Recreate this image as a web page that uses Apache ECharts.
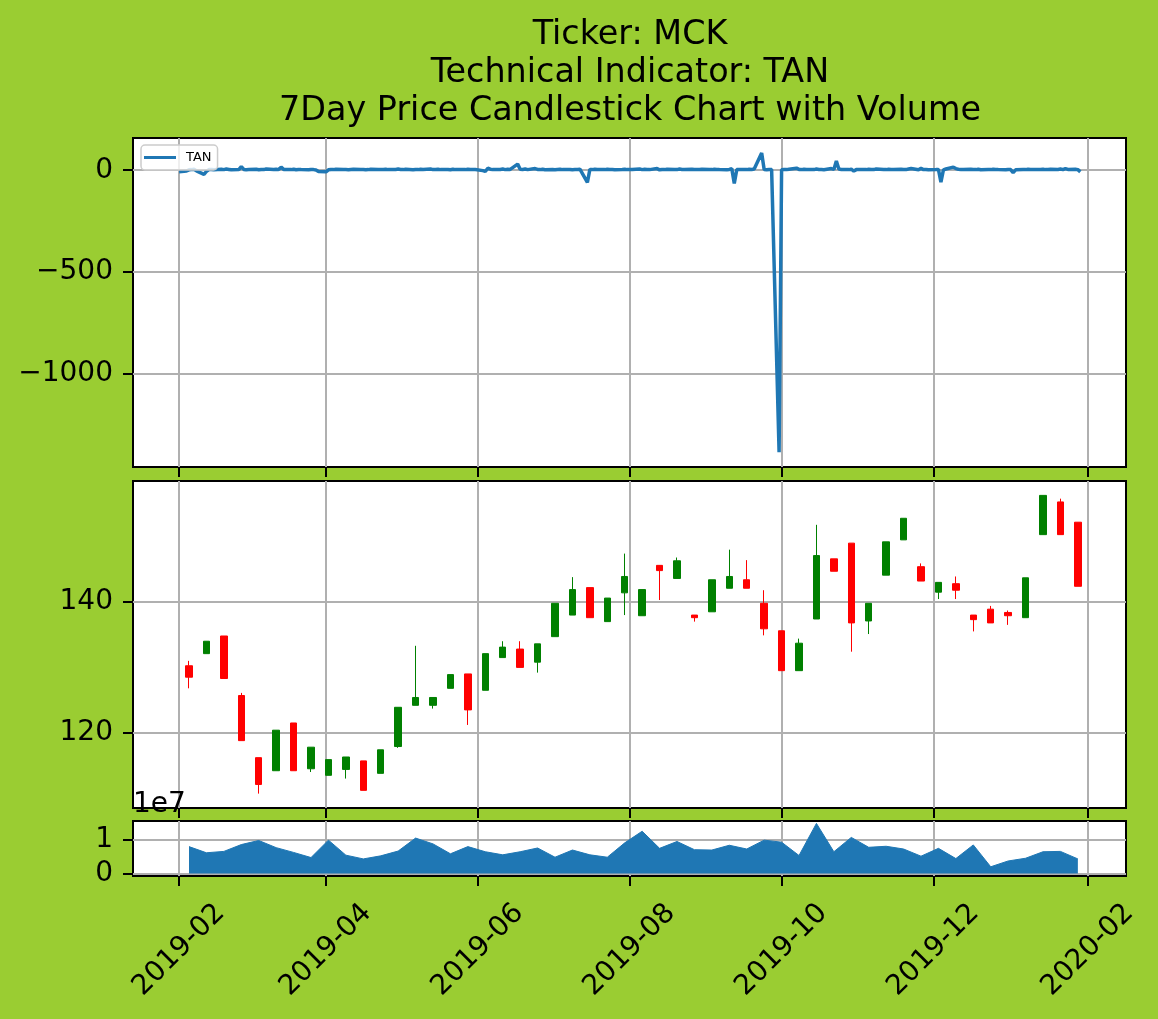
<!DOCTYPE html>
<html lang="en">
<head>
<meta charset="UTF-8">
<title>MCK - TAN - 7Day Candlestick</title>
<style>
    html, body {margin: 0; padding: 0; background: #9acd32;}
    #chart {width: 1158px; height: 1019px;}
</style>
</head>
<body>
<div id="chart"></div>

<script src="https://cdn.jsdelivr.net/npm/echarts@6/dist/echarts.min.js"></script>
<script>

// weekly candles (7Day resample), one every 7 days from candleStart
const candleStart = '2019-02-05';
const candleOpen  = [130.25, 132.1, 134.8, 125.7, 116.2, 114.2, 121.5, 114.5, 113.5, 114.4,
                     115.7, 113.8, 117.9, 124.2, 124.2, 126.8, 129.0, 126.5, 131.5, 132.8,
                     130.8, 134.7, 138.0, 142.2, 137.0, 141.4, 137.9, 145.6, 143.6, 138.0,
                     138.5, 142.1, 143.4, 139.8, 135.6, 129.5, 137.4, 146.6, 149.0, 137.1,
                     144.1, 149.5, 145.4, 141.5, 142.8, 138.0, 138.9, 138.4, 137.6, 150.3,
                     155.3, 152.2];
const candleClose = [128.5, 134.0, 128.3, 118.8, 112.1, 120.4, 114.2, 117.8, 115.9, 116.3,
                     111.2, 117.4, 123.9, 125.4, 125.4, 128.9, 123.5, 132.1, 133.1, 130.0,
                     133.6, 139.8, 141.9, 137.6, 140.6, 143.9, 141.9, 144.8, 146.3, 137.6,
                     143.4, 143.9, 142.1, 135.9, 129.5, 133.7, 147.1, 144.7, 136.8, 139.8,
                     149.2, 152.8, 143.2, 143.0, 141.8, 137.3, 136.8, 137.9, 143.7, 156.3,
                     150.3, 142.4];
const candleLow   = [126.8, 132.1, 128.3, 118.8, 110.7, 114.2, 114.2, 114.0, 113.5, 113.0,
                     111.2, 113.8, 117.7, 124.2, 123.7, 126.8, 121.2, 126.5, 131.5, 130.0,
                     129.2, 134.7, 138.0, 137.6, 137.0, 138.0, 137.9, 140.3, 143.6, 137.0,
                     138.5, 142.1, 142.1, 134.9, 129.5, 129.5, 137.4, 144.7, 132.4, 135.1,
                     144.1, 149.5, 143.2, 140.45, 140.45, 135.5, 136.8, 136.5, 137.6, 150.3,
                     150.3, 142.4];
const candleHigh  = [131.0, 134.0, 134.8, 126.1, 116.2, 120.4, 121.5, 117.8, 115.9, 116.3,
                     115.7, 117.4, 123.9, 133.3, 125.4, 128.9, 129.0, 132.1, 134.0, 134.0,
                     133.6, 139.8, 143.8, 142.2, 140.6, 147.4, 141.9, 145.6, 146.8, 138.0,
                     143.4, 148.0, 146.4, 141.8, 135.6, 134.4, 151.8, 146.6, 149.0, 139.8,
                     149.2, 152.8, 145.9, 143.0, 143.9, 138.0, 139.4, 138.7, 143.7, 156.3,
                     155.8, 152.2];
const volume      = [7.9e6, 6.1e6, 6.5e6, 8.5e6, 9.7e6, 7.6e6, 6.2e6, 4.7e6, 9.8e6, 5.4e6,
                     4.3e6, 5.2e6, 6.6e6, 10.4e6, 8.7e6, 5.8e6, 7.9e6, 6.4e6, 5.5e6, 6.4e6,
                     7.5e6, 4.8e6, 6.9e6, 5.5e6, 4.8e6, 9.0e6, 12.4e6, 7.4e6, 9.4e6, 7.0e6,
                     6.9e6, 8.3e6, 7.2e6, 9.8e6, 9.2e6, 5.3e6, 14.7e6, 6.4e6, 10.6e6, 7.7e6,
                     8.0e6, 7.2e6, 5.1e6, 7.4e6, 4.4e6, 8.4e6, 2.0e6, 3.7e6, 4.5e6, 6.4e6,
                     6.5e6, 4.3e6];

// TAN, one value per trading day (Mon-Fri) from tanStart, listed month by month
const tanStart = '2019-02-01';
const tanFeb = [-8, -4, 2, 3, 5, -3, -20, -6, 3, 4, 2, 5, 3, 6, 4, 2, 3, 18, 4, 2];
const tanMar = [3, 5, 2, 4, 3, 6, 4, 5, 3, 15, 4, 3, 5, 2, 4, 3, 2, 4, 3, 1, -6];
const tanApr = [-8, 2, 4, 3, 5, 4, 3, 2, 4, 5, 3, 4, 2, 3, 5, 4, 3, 4, 5, 3, 4, 6];
const tanMay = [4, 3, 5, 2, 4, 3, 5, 4, 6, 3, 4, 5, 3, 4, 2, 5, 3, 4, 3, 5, 4, 3, 4];
const tanJun = [-2, -6, 10, 5, 3, 4, 6, 3, 5, 4, 30, 5, 4, 6, 3, 8, 4, 3, 5, 2];
const tanJul = [3, 2, 4, 5, 3, 4, 2, 3, 4, 5, -60, 4, 3, 5, 4, 3, 5, 4, 3, 2, 4, 5, 3];
const tanAug = [4, 3, 6, 3, 5, 4, 3, 8, 2, 4, 3, 5, 4, 3, 6, 4, 3, 5, 4, 3, 4, 5];
const tanSep = [4, 3, 5, 4, 3, 2, 4, 8, -65, 3, 4, 3, 5, 4, 6, 85, 3, 2, 4, 3, -1382];
const tanOct = [2, 4, 3, 5, 10, 4, 3, 5, 4, 3, 6, 4, 3, 2, 8, 4, 45, 6, 4, 3, 5, -4, 3];
const tanNov = [4, 3, 5, 4, 3, 6, 4, 3, 5, 4, 3, 5, 4, 3, 6, 8, 2, 9, 3, 4, 2];
const tanDec = [3, 4, -58, 2, 6, 15, 8, 5, 4, 3, 5, 4, 3, 5, 2, 4, 3, 5, 4, 3, 2, 4];
const tanJan = [3, -12, 2, 4, 3, 5, 4, 3, 4, 5, 3, 4, 5, 4, 6, 3, 8, 4, 5, 3, -8];

// ticks
const xTicks = ['2019-02-01', '2019-04-01', '2019-06-01', '2019-08-01', '2019-10-01', '2019-12-01', '2020-02-01'];
const tanTicks = [0, -500, -1000];
const priceTicks = [120, 140];
const volTicks = [0, 1e7];

const xMin = new Date(2019, 0, 13, 12).getTime();
const xMax = new Date(2020, 1, 16, 8).getTime();

const FONT = 'DejaVu Sans';

function toTime(s) {
    return new Date(s + 'T00:00:00').getTime();
}

// trading days (weekdays) starting at start
function tradingDays(start, n) {
    const out = [];
    const d = new Date(start + 'T00:00:00');
    while (out.length < n) {
        const w = d.getDay();
        if (w !== 0 && w !== 6) out.push(d.getTime());
        d.setDate(d.getDate() + 1);
    }
    return out;
}

function everyWeek(start, n) {
    const out = [];
    const d = new Date(start + 'T00:00:00');
    for (let i = 0; i < n; i++) {
        out.push(d.getTime());
        d.setDate(d.getDate() + 7);
    }
    return out;
}

const tanValues = [].concat(tanFeb, tanMar, tanApr, tanMay, tanJun, tanJul, tanAug, tanSep, tanOct, tanNov, tanDec, tanJan);
const tanDates = tradingDays(tanStart, tanValues.length);
const candleDates = everyWeek(candleStart, candleOpen.length);
const xTickTimes = xTicks.map(toTime);

const tanData = tanDates.map((d, i) => [d, tanValues[i]]);
const candleData = candleDates.map((d, i) => [d, candleOpen[i], candleClose[i], candleLow[i], candleHigh[i]]);
const volData = candleDates.map((d, i) => [d, volume[i]]);

const gridLine = {show: true, lineStyle: {color: '#b0b0b0', width: 2}};
const tickStyle = {color: '#000', width: 2};

function xAxisFor(idx, withLabels) {
    return {
        type: 'value', gridIndex: idx, min: xMin, max: xMax, position: 'bottom',
        axisLine: {show: false, onZero: false},
        axisTick: {show: true, length: 10, lineStyle: tickStyle, customValues: xTickTimes},
        axisLabel: withLabels ? {
            show: true, customValues: xTickTimes, rotate: 45, align: 'center', verticalAlign: 'middle',
            margin: 74, color: '#000', fontFamily: FONT, fontSize: 28,
            formatter: v => {
                const d = new Date(v);
                return d.getFullYear() + '-' + String(d.getMonth() + 1).padStart(2, '0');
            }
        } : {show: false, customValues: xTickTimes},
        splitLine: gridLine
    };
}

function yAxisFor(idx, min, max, ticks, fmt, extra) {
    return Object.assign({
        type: 'value', gridIndex: idx, min: min, max: max, position: 'left',
        axisLine: {show: false, onZero: false},
        axisTick: {show: true, length: 10, lineStyle: tickStyle, customValues: ticks},
        axisLabel: {show: true, customValues: ticks, margin: 20, color: '#000', fontFamily: FONT, fontSize: 28, formatter: fmt},
        splitLine: gridLine
    }, extra || {});
}

const gridBase = {show: true, left: 133, width: 993, borderColor: '#000', borderWidth: 2, backgroundColor: '#fff'};

const chart = echarts.init(document.getElementById('chart'));

chart.setOption({
    animation: false,
    backgroundColor: '#9acd32',
    title: {
        text: 'Ticker: MCK\nTechnical Indicator: TAN\n7Day Price Candlestick Chart with Volume',
        left: 630, top: 16, textAlign: 'center', padding: 0,
        textStyle: {fontFamily: FONT, fontSize: 33.4, fontWeight: 'normal', color: '#000', lineHeight: 38}
    },
    legend: {
        data: ['TAN'], left: 141, top: 145,
        icon: 'rect', itemWidth: 32, itemHeight: 3, itemGap: 0,
        padding: [6, 6, 6, 3],
        backgroundColor: 'rgba(255,255,255,0.8)', borderColor: '#cccccc', borderWidth: 1.5, borderRadius: 4,
        textStyle: {fontFamily: FONT, fontSize: 13, color: '#000', padding: [0, 0, 0, 5]}
    },
    grid: [
        Object.assign({top: 138, height: 329}, gridBase),
        Object.assign({top: 481, height: 327}, gridBase),
        Object.assign({top: 821, height: 55}, gridBase)
    ],
    xAxis: [xAxisFor(0, false), xAxisFor(1, false), xAxisFor(2, true)],
    yAxis: [
        yAxisFor(0, -1455, 158, tanTicks, v => String(v).replace('-', '\u2212')),
        yAxisFor(1, 108.5, 158.5, priceTicks, v => String(v)),
        yAxisFor(2, -0.07e7, 1.54e7, volTicks, v => String(Math.round(v / 1e7)), {
            name: '1e7', nameLocation: 'end', nameGap: 2,
            nameTextStyle: {fontFamily: FONT, fontSize: 28, color: '#000', align: 'left', verticalAlign: 'bottom'}
        })
    ],
    series: [
        {
            name: 'TAN', type: 'line', xAxisIndex: 0, yAxisIndex: 0,
            data: tanData, symbol: 'none', showSymbol: false,
            lineStyle: {color: '#1f77b4', width: 3.5}, itemStyle: {color: '#1f77b4'}
        },
        {
            name: 'Price', type: 'candlestick', xAxisIndex: 1, yAxisIndex: 1,
            data: candleData, encode: {x: 0, y: [1, 2, 3, 4]},
            barWidth: 7,
            itemStyle: {color: '#008000', color0: '#ff0000', borderColor: '#008000', borderColor0: '#ff0000', borderWidth: 1}
        },
        {
            name: 'Volume', type: 'line', xAxisIndex: 2, yAxisIndex: 2,
            data: volData, symbol: 'none', showSymbol: false,
            lineStyle: {color: '#1f77b4', width: 1},
            areaStyle: {color: '#1f77b4', opacity: 1}
        }
    ]
});
</script>
</body>
</html>
